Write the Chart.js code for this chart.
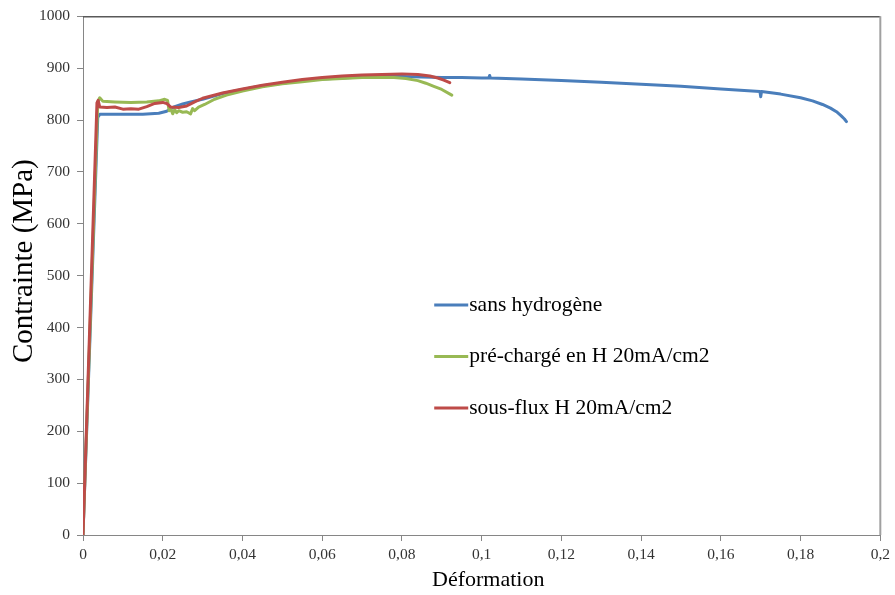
<!DOCTYPE html>
<html>
<head>
<meta charset="utf-8">
<script src="https://cdn.jsdelivr.net/npm/chart.js@4/dist/chart.umd.min.js"></script>
<style>
  html, body { margin: 0; padding: 0; background: #ffffff; }
  #wrap { width: 895px; height: 595px; }
</style>
</head>
<body>
<div id="wrap"><canvas id="c" width="895" height="595"></canvas></div>
<script>
// ---- Data ----
const seriesLabels = ["sans hydrogène", "pré-chargé en H 20mA/cm2", "sous-flux H 20mA/cm2"];

const blueX = [0, 0.0037, 0.0042, 0.006, 0.01, 0.015, 0.019, 0.021, 0.023, 0.025, 0.027, 0.03, 0.035, 0.04, 0.045, 0.05, 0.055, 0.06, 0.065, 0.07, 0.075, 0.08, 0.085, 0.09, 0.095, 0.1, 0.1018, 0.102, 0.1022, 0.11, 0.12, 0.13, 0.14, 0.15, 0.16, 0.1698, 0.17, 0.1702, 0.175, 0.18, 0.183, 0.1855, 0.1875, 0.189, 0.1902, 0.191, 0.1915];
const blueY = [0, 805, 811, 811, 811, 811, 813, 817, 826, 831, 835, 840, 851, 859, 866, 871, 876, 879, 881, 883, 884, 884, 883, 882, 882, 881, 881, 886, 881, 879, 876, 873, 869, 865, 860, 855, 845, 855, 850, 843, 837, 830, 823, 816, 808, 802, 797];

const greenX = [0, 0.0037, 0.0042, 0.005, 0.008, 0.012, 0.016, 0.019, 0.0205, 0.0212, 0.0216, 0.022, 0.0225, 0.023, 0.0235, 0.024, 0.025, 0.026, 0.027, 0.0275, 0.028, 0.029, 0.0305, 0.033, 0.036, 0.04, 0.045, 0.05, 0.055, 0.06, 0.065, 0.07, 0.075, 0.078, 0.081, 0.084, 0.086, 0.088, 0.09, 0.0925];
const greenY = [0, 835, 843, 836, 835, 834, 835, 837, 840, 838, 818, 822, 812, 820, 814, 818, 815, 816, 812, 822, 818, 825, 830, 840, 848, 856, 864, 870, 874, 878, 880, 882, 882, 882, 880, 876, 871, 865, 859, 848];

const redX = [0, 0.0035, 0.0038, 0.0042, 0.006, 0.008, 0.01, 0.012, 0.014, 0.016, 0.018, 0.02, 0.021, 0.022, 0.024, 0.026, 0.028, 0.03, 0.035, 0.04, 0.045, 0.05, 0.055, 0.06, 0.065, 0.07, 0.075, 0.08, 0.084, 0.087, 0.089, 0.0905, 0.092];
const redY = [0, 833, 838, 825, 824, 825, 821, 822, 821, 826, 832, 834, 832, 825, 824, 827, 835, 842, 852, 860, 867, 873, 878, 882, 885, 887, 888, 889, 888, 885, 881, 877, 872];

const xTicksMin = 0, xTicksMax = 0.2, xStep = 0.02;
const yTicksMin = 0, yTicksMax = 1000, yStep = 100;

// ---- Build ----
function pts(xs, ys) { return xs.map((x, i) => ({ x: x, y: ys[i] })); }
const colors = ["#4A7EBB", "#98B954", "#BE4B48"];
const serif = '"Liberation Serif", "Times New Roman", serif';

const legendPlugin = {
  id: 'insideLegend',
  afterDatasetsDraw(chart) {
    const ctx = chart.ctx, a = chart.chartArea;
    const w = a.right - a.left, h = a.bottom - a.top;
    const x0 = a.left + 0.4405 * w, x1 = x0 + 34;
    const ys = [0.5564, 0.6558, 0.7553];
    ctx.save();
    ctx.font = '21.5px ' + serif;
    ctx.textBaseline = 'middle';
    ctx.textAlign = 'left';
    seriesLabels.forEach((lab, i) => {
      const y = a.top + ys[i] * h;
      ctx.strokeStyle = colors[i];
      ctx.lineWidth = 3;
      ctx.beginPath(); ctx.moveTo(x0, y); ctx.lineTo(x1, y); ctx.stroke();
      ctx.fillStyle = '#000000';
      ctx.fillText(lab, x1 + 1, y);
    });
    ctx.restore();
  }
};

const borderPlugin = {
  id: 'plotBorder',
  beforeDatasetsDraw(chart) {
    const ctx = chart.ctx, a = chart.chartArea;
    ctx.save();
    ctx.strokeStyle = '#595959';
    ctx.lineWidth = 1.5;
    ctx.beginPath(); ctx.moveTo(a.left, a.top + 0.5); ctx.lineTo(a.right, a.top + 0.5); ctx.stroke();
    ctx.strokeStyle = '#a0a0a0';
    ctx.lineWidth = 2;
    ctx.beginPath(); ctx.moveTo(a.right, a.top); ctx.lineTo(a.right, a.bottom); ctx.stroke();
    ctx.restore();
  }
};

function fmtX(v) { return String(Number(v.toFixed(4))).replace('.', ','); }
function fmtY(v) { return String(v); }

new Chart(document.getElementById('c'), {
  type: 'line',
  data: {
    datasets: [
      { label: seriesLabels[0], data: pts(blueX, blueY), borderColor: colors[0], order: 2 },
      { label: seriesLabels[1], data: pts(greenX, greenY), borderColor: colors[1], order: 1 },
      { label: seriesLabels[2], data: pts(redX, redY), borderColor: colors[2], order: 0 }
    ]
  },
  options: {
    responsive: false,
    animation: false,
    events: [],
    datasets: { line: { borderWidth: 3, pointRadius: 0, fill: false, tension: 0, borderJoinStyle: 'round', borderCapStyle: 'round' } },
    layout: { padding: { top: 12, right: 13, left: 0, bottom: 0 } },
    plugins: { legend: { display: false }, tooltip: { enabled: false } },
    scales: {
      x: {
        type: 'linear', min: xTicksMin, max: xTicksMax,
        afterFit(s) { s.height = 60; },
        ticks: { stepSize: xStep, callback: fmtX, color: '#333333', padding: 5, maxRotation: 0,
                 font: { family: serif, size: 15.5 } },
        grid: { display: true, drawOnChartArea: false, drawTicks: true, tickLength: 6, color: '#868686' },
        border: { display: true, color: '#868686', width: 1 },
        title: { display: true, text: '\u2009\u2009\u2009Déformation', color: '#000000',
                 font: { family: serif, size: 22 }, padding: { top: 0, bottom: 2 } }
      },
      y: {
        type: 'linear', min: yTicksMin, max: yTicksMax,
        afterFit(s) { s.width = 83; },
        ticks: { stepSize: yStep, callback: fmtY, color: '#333333', padding: 7,
                 font: { family: serif, size: 15.5 } },
        grid: { display: true, drawOnChartArea: false, drawTicks: true, tickLength: 6, color: '#868686' },
        border: { display: true, color: '#868686', width: 1 },
        title: { display: true, text: '    Contrainte (MPa)', color: '#000000',
                 font: { family: serif, size: 29 }, padding: { top: 7, bottom: 0 } }
      }
    }
  },
  plugins: [borderPlugin, legendPlugin]
});
</script>
</body>
</html>
